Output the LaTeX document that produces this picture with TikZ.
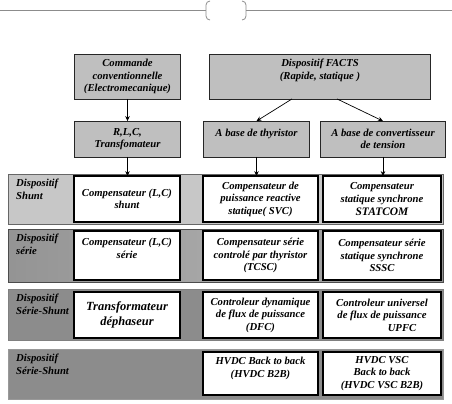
\documentclass[tikz,border=0pt]{standalone}
\usepackage{fontspec}
\setmainfont{Liberation Serif}
\usetikzlibrary{arrows.meta,calc}
\newcommand{\fs}{\fontsize{10.7}{12.6}\selectfont\bfseries\itshape}
\newcommand{\fb}{\fontsize{12.5}{15}\selectfont\bfseries\itshape}
\begin{document}
\begin{tikzpicture}[x=1bp,y=-1bp,
  topbox/.style={draw=black!85, fill=black!25, line width=0.7pt, align=center, inner sep=1pt, outer sep=0pt, font=\fs},
  wbox/.style={draw=black, fill=white, line width=2.3pt, align=center, inner sep=1pt, outer sep=0pt, font=\fs},
  band/.style={draw=black!60, line width=1.1pt, inner sep=0pt, outer sep=0pt},
  lab/.style={align=left, anchor=north west, inner sep=0pt, font=\fs},
  arr/.style={-{Stealth[length=5pt,width=4.5pt]}, line width=0.7pt},
  orn/.style={draw=black!45, line width=0.8pt}]
\useasboundingbox (0,0) rectangle (452,403);
% header ornament
\coordinate (l0) at (0,10);
\coordinate (l1) at (206,10);
\coordinate (r1) at (246,10);
\coordinate (r0) at (452,10);
\draw[orn] (l0) -- (l1);
\draw[orn] (r1) -- (r0);
\draw[orn] (210,1) to[out=180,in=90] (206,5) -- (206,16) to[out=-90,in=180] (210,20);
\draw[orn] (242,1) to[out=0,in=90] (246,5) -- (246,16) to[out=-90,in=0] (242,20);
% top boxes
\node[topbox, minimum width=107, minimum height=45] (cc) at (127.5,76.5) {Commande\\conventionnelle\\(Electromecanique)};
\node[topbox, minimum width=222, minimum height=45] (facts) at (320,76.5) {Dispositif FACTS\\(Rapide, statique )\\[2pt]~};
\node[topbox, minimum width=107, minimum height=36] (rlc) at (127.5,139) {R,L,C,\\Transfomateur};
\node[topbox, minimum width=107, minimum height=36] (thy) at (256.5,139) {A base de thyristor\\~};
\node[topbox, minimum width=126, minimum height=36] (conv) at (383,139) {A base de convertisseur\\de tension};
% bands
\node[band, fill=black!22, minimum width=436, minimum height=51] (b1) at (226,199.5) {};
\node[band, draw=black!70, left color=black!42, right color=black!42, middle color=black!34, minimum width=436, minimum height=54] (b2) at (226,256) {};
\node[band, fill=black!45, draw=black!50, minimum width=436, minimum height=52] (b3) at (226,315) {};
\node[band, fill=black!45, draw=black!40, minimum width=436, minimum height=51] (b4) at (226,374.5) {};
% labels
\node[lab] (l1t) at (16,179) {Dispositif\\Shunt};
\node[lab] (l2t) at (16,234) {Dispositif\\série};
\node[lab] (l3t) at (16,294) {Dispositif\\Série-Shunt};
\node[lab] (l4t) at (16,354) {Dispositif\\Série-Shunt};
% row 1
\node[wbox, minimum width=106, minimum height=46] (a1) at (127,199) {Compensateur (L,C)\\shunt};
\node[wbox, minimum width=115, minimum height=46] (m1) at (260.5,199) {Compensateur de\\puissance reactive\\statique( SVC)};
\node[wbox, minimum width=118, minimum height=46] (c1) at (382,199) {Compensateur\\statique synchrone\\{\fontsize{11.5}{12.6}\selectfont STATCOM}};
% row 2
\node[wbox, minimum width=106, minimum height=49] (a2) at (127,255.5) {Compensateur (L,C)\\série\\[2pt]~};
\node[wbox, minimum width=115, minimum height=49] (m2) at (260.5,255.5) {Compensateur série\\controlé par thyristor\\(TCSC)};
\node[wbox, minimum width=118, minimum height=49] (c2) at (382,255.5) {Compensateur série\\statique synchrone\\SSSC};
% row 3
\node[wbox, minimum width=106, minimum height=46, font=\fb] (a3) at (127,315) {Transformateur\\déphaseur};
\node[wbox, minimum width=115, minimum height=46] (m3) at (260.5,315) {Controleur dynamique\\de flux de puissance\\(DFC)};
\node[wbox, minimum width=118, minimum height=46] (c3) at (382,315) {Controleur universel\\de flux de puissance\\\hspace*{40bp}UPFC};
% row 4
\node[wbox, minimum width=115, minimum height=43] (m4) at (260.5,373.5) {HVDC Back to back\\(HVDC B2B)\\~};
\node[wbox, minimum width=118, minimum height=43] (c4) at (382,373.5) {HVDC VSC\\Back to back\\(HVDC VSC B2B)};
% arrows
\draw[arr] (cc.south) -- (rlc.north);
\draw[arr] ($(facts.south)+(-28,0)$) -- (thy.north);
\draw[arr] ($(facts.south)+(17,0)$) -- (conv.north);
\draw[arr] (rlc.south) -- (rlc.south |- a1.north);
\draw[arr] (thy.south) -- (thy.south |- m1.north);
\draw[arr] (conv.south) -- (conv.south |- c1.north);
\end{tikzpicture}
\end{document}
